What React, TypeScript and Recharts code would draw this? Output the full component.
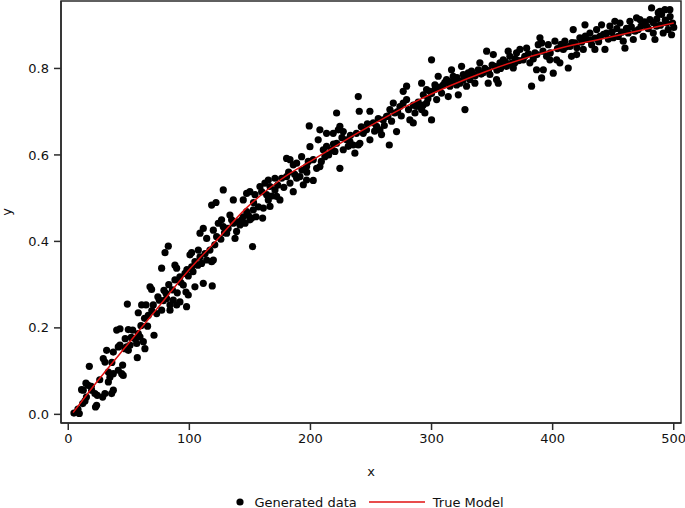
import React from "react";
import {
  ComposedChart, Scatter, XAxis, YAxis, Legend, ReferenceArea
} from "recharts";

// generated data in five stretches along x
const seg1: [number, number][] = [
  [4.7, 0.003], [9.1, 0.002], [11.9, 0.025], [13.8, 0.031], [11.0, 0.057], [14.6, 0.072], [16.5, 0.067],
  [19.3, 0.056], [22.0, 0.048], [24.0, 0.044], [28.4, 0.040], [23.4, 0.021], [17.4, 0.111], [30.3, 0.048],
  [35.8, 0.048], [37.2, 0.056], [33.1, 0.075], [34.4, 0.086], [33.1, 0.098], [37.2, 0.094], [41.3, 0.102],
  [44.1, 0.094], [44.9, 0.114], [45.4, 0.090], [28.9, 0.129], [30.3, 0.121], [31.7, 0.148], [37.2, 0.144],
  [41.3, 0.156], [42.7, 0.160], [46.8, 0.152], [49.6, 0.148], [51.0, 0.160], [48.2, 0.156], [53.2, 0.195],
  [57.8, 0.187], [59.2, 0.179], [55.1, 0.175], [56.5, 0.164], [57.0, 0.131], [63.3, 0.152], [62.0, 0.168],
  [65.5, 0.204], [40.0, 0.195], [42.7, 0.198], [49.6, 0.196], [48.8, 0.255], [57.8, 0.235], [60.6, 0.253],
  [64.2, 0.253], [66.1, 0.229], [70.2, 0.253], [73.0, 0.233], [70.8, 0.183], [75.2, 0.264], [78.5, 0.263],
  [81.2, 0.268], [84.0, 0.253], [86.7, 0.264], [89.5, 0.253], [92.2, 0.260], [97.7, 0.249], [67.5, 0.295],
  [68.8, 0.289], [79.0, 0.287], [80.7, 0.280], [88.1, 0.311], [92.2, 0.318], [96.4, 0.326], [99.1, 0.320],
  [77.1, 0.338], [88.1, 0.345], [89.5, 0.338], [79.9, 0.374], [82.6, 0.389], [100.5, 0.369], [101.9, 0.374],
  [95.0, 0.299], [97.2, 0.283], [99.1, 0.276], [90.0, 0.281], [84.0, 0.241], [77.1, 0.241], [12.4, 0.056],
  [22.5, 0.017], [8, 0.012], [15, 0.040], [19, 0.065], [26, 0.080], [36, 0.120], [47, 0.175], [52, 0.178],
  [60, 0.205], [63, 0.222], [69, 0.240], [74, 0.272], [83, 0.300], [86, 0.288], [93, 0.305], [98, 0.335]
];

const seg2: [number, number][] = [
  [104.6, 0.295], [111.5, 0.303], [118.9, 0.297], [101.9, 0.341], [104.6, 0.353], [107.4, 0.380], [108.8, 0.364],
  [110.1, 0.349], [114.3, 0.357], [118.4, 0.353], [119.8, 0.357], [108.8, 0.419], [111.5, 0.430], [114.3, 0.407],
  [119.8, 0.426], [122.5, 0.411], [123.9, 0.442], [126.6, 0.450], [128.0, 0.434], [130.8, 0.419], [133.5, 0.461],
  [134.9, 0.450], [136.3, 0.442], [139.0, 0.423], [137.7, 0.407], [141.8, 0.438], [143.2, 0.450], [144.5, 0.457],
  [147.3, 0.469], [148.7, 0.461], [150.0, 0.450], [151.4, 0.454], [152.8, 0.473], [155.0, 0.457], [160.5, 0.454],
  [152.2, 0.388], [118.4, 0.484], [122.0, 0.490], [136.3, 0.496], [128.0, 0.519], [144.5, 0.496], [147.3, 0.511],
  [150.0, 0.515], [154.2, 0.508], [158.3, 0.527], [159.7, 0.515], [162.4, 0.535], [165.2, 0.542], [166.6, 0.527],
  [163.8, 0.508], [161.1, 0.477], [166.6, 0.481], [165.2, 0.496], [170.7, 0.519], [172.1, 0.504], [174.8, 0.496],
  [170.7, 0.546], [176.2, 0.546], [180.3, 0.550], [183.1, 0.535], [185.8, 0.515], [188.6, 0.546], [191.3, 0.550],
  [194.1, 0.531], [196.8, 0.542], [180.3, 0.592], [183.1, 0.589], [185.8, 0.577], [188.6, 0.581], [192.7, 0.596],
  [196.8, 0.573], [198.2, 0.585], [199.6, 0.619], [202.3, 0.589], [199.0, 0.667], [103, 0.330], [107, 0.345],
  [113, 0.372], [117, 0.380], [121, 0.392], [126, 0.405], [129, 0.420], [132, 0.430], [140, 0.445], [146, 0.442],
  [153, 0.490], [157, 0.480], [168, 0.505], [173, 0.530], [178, 0.525], [182, 0.560], [187, 0.555], [193, 0.565],
  [197, 0.560]
];

const seg3: [number, number][] = [
  [202.3, 0.541], [205.1, 0.569], [207.8, 0.573], [206.4, 0.635], [210.6, 0.612], [211.9, 0.596], [213.3, 0.620],
  [217.4, 0.612], [220.2, 0.608], [221.6, 0.627], [224.3, 0.569], [218.8, 0.650], [223.0, 0.658], [224.3, 0.666],
  [227.1, 0.654], [227.1, 0.612], [229.8, 0.635], [231.2, 0.620], [232.6, 0.631], [235.3, 0.623], [236.7, 0.604],
  [239.5, 0.623], [240.8, 0.627], [243.6, 0.650], [246.3, 0.658], [249.1, 0.635], [251.9, 0.674], [254.6, 0.666],
  [257.4, 0.658], [258.7, 0.647], [260.1, 0.681], [262.9, 0.689], [265.1, 0.623], [265.6, 0.705], [268.4, 0.720],
  [269.7, 0.697], [271.1, 0.654], [273.9, 0.712], [276.6, 0.720], [279.4, 0.728], [282.1, 0.681], [284.9, 0.674],
  [286.3, 0.697], [287.6, 0.712], [279.4, 0.759], [276.6, 0.747], [239.5, 0.735], [240.3, 0.701], [249.1, 0.701],
  [221.6, 0.697], [207.8, 0.658], [213.3, 0.650], [295.9, 0.720], [209, 0.585], [215, 0.600], [219, 0.625],
  [226, 0.640], [233, 0.645], [238, 0.650], [242, 0.665], [247, 0.672], [253, 0.655], [256, 0.684], [261, 0.668],
  [264, 0.690], [267, 0.678], [272, 0.700], [275, 0.690], [281, 0.705], [285, 0.715], [289, 0.722], [293, 0.715],
  [297, 0.730], [300, 0.742]
];

const seg4: [number, number][] = [
  [291.8, 0.766], [293.2, 0.739], [291.8, 0.705], [294.5, 0.697], [300.0, 0.681], [295.9, 0.751], [298.7, 0.747],
  [302.8, 0.762], [304.2, 0.728], [305.5, 0.782], [308.3, 0.743], [309.7, 0.762], [312.4, 0.774], [313.8, 0.735],
  [315.2, 0.759], [316.5, 0.797], [317.9, 0.782], [320.7, 0.762], [322.1, 0.739], [323.4, 0.766], [324.8, 0.805],
  [326.2, 0.786], [327.6, 0.705], [328.9, 0.759], [330.3, 0.790], [331.7, 0.774], [334.4, 0.786], [335.8, 0.766],
  [338.6, 0.797], [339.9, 0.813], [342.7, 0.790], [345.5, 0.840], [346.8, 0.766], [348.2, 0.786], [351.0, 0.832],
  [352.3, 0.805], [353.7, 0.774], [355.1, 0.766], [356.5, 0.813], [359.2, 0.820], [362.0, 0.805], [363.3, 0.840],
  [364.7, 0.828], [367.5, 0.801], [368.8, 0.813], [370.2, 0.836], [373.0, 0.844], [375.7, 0.820], [378.5, 0.847],
  [381.2, 0.813], [382.6, 0.759], [385.4, 0.836], [386.7, 0.797], [388.1, 0.855], [389.5, 0.871], [397.7, 0.820],
  [300.0, 0.820], [303, 0.752], [307, 0.757], [311, 0.768], [314, 0.770], [318, 0.771], [321, 0.779], [326, 0.773],
  [329, 0.781], [333, 0.794], [336, 0.783], [341, 0.787], [344, 0.800], [347, 0.795], [350, 0.808], [354, 0.796],
  [357, 0.800], [361, 0.815], [366, 0.812], [369, 0.822], [372, 0.818], [377, 0.828], [380, 0.834], [384, 0.822],
  [387, 0.832], [392, 0.840], [398, 0.836]
];

const seg5: [number, number][] = [
  [390.9, 0.859], [392.3, 0.797], [390.9, 0.778], [395.0, 0.828], [396.4, 0.855], [400.5, 0.789], [401.9, 0.863],
  [403.3, 0.820], [406.0, 0.813], [408.8, 0.844], [410.1, 0.863], [412.9, 0.801], [414.3, 0.851], [415.6, 0.828],
  [417.0, 0.890], [418.4, 0.859], [419.8, 0.832], [422.5, 0.871], [425.3, 0.844], [426.7, 0.901], [428.0, 0.867],
  [430.8, 0.882], [432.2, 0.855], [434.9, 0.844], [436.3, 0.890], [439.0, 0.874], [440.4, 0.901], [443.2, 0.844],
  [444.5, 0.882], [447.3, 0.898], [450.1, 0.871], [451.4, 0.909], [454.2, 0.874], [455.6, 0.905], [458.3, 0.863],
  [459.7, 0.847], [462.4, 0.882], [463.8, 0.909], [466.6, 0.867], [469.3, 0.917], [470.7, 0.890], [472.1, 0.913],
  [474.8, 0.874], [477.6, 0.898], [480.3, 0.913], [481.7, 0.940], [483.1, 0.882], [484.5, 0.867], [485.8, 0.898],
  [487.2, 0.929], [488.6, 0.932], [490.0, 0.925], [491.3, 0.882], [492.7, 0.936], [494.1, 0.905], [495.4, 0.890],
  [496.8, 0.936], [498.2, 0.878], [499.0, 0.905], [404, 0.846], [407, 0.856], [411, 0.850], [416, 0.860],
  [420, 0.848], [424, 0.861], [427, 0.875], [431, 0.866], [435, 0.870], [438, 0.862], [442, 0.879], [446, 0.868],
  [449, 0.884], [453, 0.892], [457, 0.884], [461, 0.893], [465, 0.896], [468, 0.886], [473, 0.898], [476, 0.908],
  [479, 0.892], [483, 0.906], [486, 0.914], [489, 0.900], [493, 0.912], [497, 0.920], [500, 0.895]
];

// true model curve
const modelX = [4, 25, 50, 75, 100, 120, 147, 175, 204, 246, 290, 345, 402, 445, 500];
const modelY = [0.004, 0.080, 0.165, 0.250, 0.335, 0.395, 0.477, 0.542, 0.592, 0.662, 0.728, 0.793, 0.844, 0.871, 0.905];

const xTicks = [0, 100, 200, 300, 400, 500];
const yTicks = [0, 0.2, 0.4, 0.6, 0.8];

const generated = [...seg1, ...seg2, ...seg3, ...seg4, ...seg5].map(([x, y]) => ({ x, y }));
const model = modelX.map((x, i) => ({ x, y: modelY[i] }));

const X_MIN = -6, X_MAX = 506, Y_MIN = -0.02, Y_MAX = 0.956;
const FONT = "'DejaVu Sans', sans-serif";
const INK = "#2b2b2b";
const RED = "#e01010";

const Dot = (props: any) => <circle cx={props.cx} cy={props.cy} r={3.6} fill="#000" />;
const NoDot = () => <g />;

// legend is centred on the plot area, not on the whole image
const LegendBox = () => (
  <div style={{ display: "flex", justifyContent: "center", alignItems: "center", height: 20,
    fontFamily: FONT, fontSize: 13, color: "#111", paddingTop: 4, paddingLeft: 57 }}>
    <svg width={12} height={12} style={{ marginRight: 8 }}>
      <circle cx={6} cy={6} r={3.6} fill="#000" />
    </svg>
    <span style={{ marginRight: 12 }}>Generated data</span>
    <svg width={56} height={12} style={{ marginRight: 8 }}>
      <line x1={0} y1={6} x2={56} y2={6} stroke={RED} strokeWidth={1.5} />
    </svg>
    <span>True Model</span>
  </div>
);

export default function App() {
  return (
    <div style={{ width: 685, height: 508 }}>
      <style>{"body{margin:0;background:#fff}"}</style>
      <ComposedChart width={685} height={508} margin={{ top: 1, right: 4, left: 0, bottom: 0 }}>
        <XAxis
          type="number" dataKey="x" domain={[X_MIN, X_MAX]} ticks={xTicks} allowDataOverflow
          height={65} tickSize={7} tickMargin={4} stroke={INK} strokeWidth={1.5}
          tick={{ fill: "#111", fontSize: 13, fontFamily: FONT }}
          label={{ value: "x", position: "insideBottom", offset: 12, fill: "#111", fontSize: 13, fontFamily: FONT }}
        />
        <YAxis
          type="number" dataKey="y" domain={[Y_MIN, Y_MAX]} ticks={yTicks} allowDataOverflow
          width={61} tickSize={7} tickMargin={5} stroke={INK} strokeWidth={1.5}
          tickFormatter={(v: number) => v.toFixed(1)}
          tick={{ fill: "#111", fontSize: 13, fontFamily: FONT }}
          label={{ value: "y", angle: -90, position: "insideLeft", offset: 6, fill: "#111", fontSize: 13,
            fontFamily: FONT, style: { textAnchor: "middle" } }}
        />
        <ReferenceArea x1={X_MIN} x2={X_MAX} y1={Y_MIN} y2={Y_MAX} fill="none" stroke={INK} strokeWidth={1.5} />
        <Scatter name="Generated data" data={generated} dataKey="y" shape={Dot} isAnimationActive={false} />
        {/* model drawn as a line-only scatter so that it sits on top of the dots */}
        <Scatter name="True Model" data={model} dataKey="y" shape={NoDot} line={{ stroke: RED, strokeWidth: 1.5 }}
          lineJointType="monotone" isAnimationActive={false} />
        <Legend verticalAlign="bottom" height={20} content={<LegendBox />} />
      </ComposedChart>
    </div>
  );
}
